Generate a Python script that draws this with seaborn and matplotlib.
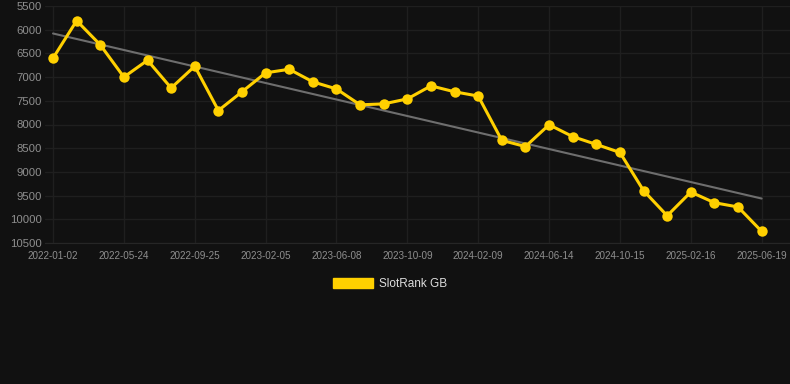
import numpy as np
import pandas as pd
import matplotlib
matplotlib.use("Agg")
import matplotlib.pyplot as plt
from matplotlib.patches import Patch
import seaborn as sns

# Rank values (lower is better), one point per period
ranks = [6600, 5810, 6320, 7000, 6645, 7230, 6770, 7705, 7310, 6910,
         6835, 7100, 7250, 7585, 7565, 7460, 7185, 7310, 7400, 8335,
         8465, 8005, 8255, 8420, 8590, 9395, 9925, 9425, 9650, 9740,
         10255]
# Dates shown on the x axis (every third point)
tick_labels = ["2022-01-02", "2022-05-24", "2022-09-25", "2023-02-05",
               "2023-06-08", "2023-10-09", "2024-02-09", "2024-06-14",
               "2024-10-15", "2025-02-16", "2025-06-19"]
y_ticks = [5500, 6000, 6500, 7000, 7500, 8000, 8500, 9000, 9500, 10000, 10500]
series_name = "SlotRank GB"

BG = "#111111"
GOLD = "#FFD000"
GRID = "#1f1f1f"
TICK = "#8f8f8f"

df = pd.DataFrame({"idx": np.arange(len(ranks)), "rank": ranks})

sns.set_style("dark")
plt.rcParams["font.family"] = ["Liberation Sans", "DejaVu Sans"]

fig = plt.figure(figsize=(7.9, 3.84), dpi=100, facecolor=BG)
ax = fig.add_axes([45 / 790, 1 - 243 / 384, 745 / 790, 237 / 384])
ax.set_facecolor(BG)

# trend line
sns.regplot(data=df, x="idx", y="rank", scatter=False, ci=None, ax=ax,
            line_kws={"color": "#6e6e6e", "linewidth": 1.5, "zorder": 2})

sns.lineplot(data=df, x="idx", y="rank", ax=ax, color=GOLD, linewidth=2.2,
             marker="o", markersize=7.5, markeredgewidth=0, zorder=3)

ax.set_xlim(-0.34, 31.2)
ax.set_ylim(10500, 5500)
ax.set_yticks(y_ticks)
ax.set_yticklabels([str(v) for v in y_ticks], fontsize=8.2, color=TICK)
ax.set_xticks(np.arange(0, len(ranks), 3))
ax.set_xticklabels(tick_labels, fontsize=7.1, color=TICK)
ax.tick_params(axis="y", length=0, pad=2.5)
ax.tick_params(axis="x", length=0, pad=6)
ax.grid(True, color=GRID, linewidth=1.0)
ax.set_xlabel("")
ax.set_ylabel("")
for side in ["top", "right", "left"]:
    ax.spines[side].set_visible(False)
ax.spines["bottom"].set_color("#262626")

handle = Patch(facecolor=GOLD, edgecolor=GOLD, label=series_name)
fig.legend(handles=[handle], loc="center", bbox_to_anchor=(390 / 790, 1 - 284 / 384),
           frameon=False, fontsize=8.5, labelcolor="#dddddd",
           handlelength=3.4, handleheight=1.0, handletextpad=0.5)

fig.savefig("out.png", dpi=100, facecolor=BG)
